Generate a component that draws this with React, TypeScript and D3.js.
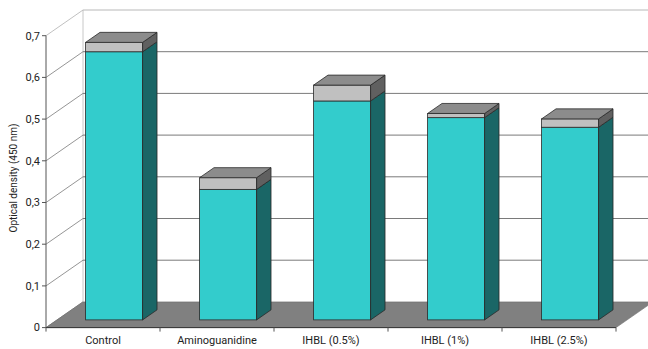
import React from "react";
import * as d3 from "d3";

const categories = ["Control", "Aminoguanidine", "IHBL (0.5%)", "IHBL (1%)", "IHBL (2.5%)"];
const baseValues = [0.643, 0.313, 0.525, 0.485, 0.462];
const topValues = [0.0225, 0.028, 0.038, 0.01, 0.02];
const yTicks = [0, 0.1, 0.2, 0.3, 0.4, 0.5, 0.6, 0.7];
const yTitle = "Optical density (450 nm)";

const W = 648;
const H = 349;
const DX = 37;
const DY = -25.7;
const FRONT = 0.3;
const BACK = 0.69;

export default function App() {
  const x = d3.scaleBand<string>().domain(categories).range([46, 616]).paddingInner(0.5).paddingOuter(0.25);
  const y = d3.scaleLinear().domain([0, 0.7]).range([327.6, 35.7]);
  const fmt = (v: number) => (v === 0 ? "0" : d3.format(".1f")(v).replace(".", ","));
  const x0 = 46;
  const x1 = 616;
  const y0 = y(0);
  const font = "Roboto, 'Noto Sans', sans-serif";

  const poly = (pts: [number, number][]) => pts.map((p) => p.join(",")).join(" ");

  const bars = categories.map((c, i) => {
    const bx = (x(c) as number) + FRONT * DX;
    const bw = x.bandwidth();
    const off = FRONT * DY;
    const ddx = (BACK - FRONT) * DX;
    const ddy = (BACK - FRONT) * DY;
    const yb = y(0) + off;
    const yc = y(baseValues[i]) + off;
    const yt = y(baseValues[i] + topValues[i]) + off;
    const stroke = "#2a2a2a";
    return (
      <g key={c}>
        <rect x={bx} y={yc} width={bw} height={yb - yc} fill="#33CCCC" stroke={stroke} strokeWidth={0.8} />
        <polygon
          points={poly([
            [bx + bw, yb],
            [bx + bw + ddx, yb + ddy],
            [bx + bw + ddx, yc + ddy],
            [bx + bw, yc],
          ])}
          fill="#1A6666"
          stroke={stroke}
          strokeWidth={0.8}
        />
        <rect x={bx} y={yt} width={bw} height={yc - yt} fill="#C0C0C0" stroke={stroke} strokeWidth={0.8} />
        <polygon
          points={poly([
            [bx + bw, yc],
            [bx + bw + ddx, yc + ddy],
            [bx + bw + ddx, yt + ddy],
            [bx + bw, yt],
          ])}
          fill="#606060"
          stroke={stroke}
          strokeWidth={0.8}
        />
        <polygon
          points={poly([
            [bx, yt],
            [bx + ddx, yt + ddy],
            [bx + bw + ddx, yt + ddy],
            [bx + bw, yt],
          ])}
          fill="#8C8C8C"
          stroke={stroke}
          strokeWidth={0.8}
        />
      </g>
    );
  });

  return (
    <svg width={W} height={H} style={{ position: "absolute", left: 0, top: 0 }}>
      <rect x={0} y={0} width={W} height={H} fill="#fff" />
      <line x1={x0 + DX} x2={x0 + DX} y1={y(0.7) + DY} y2={y0 + DY} stroke="#c8c8c8" strokeWidth={1} />
      {yTicks.map((t) => (
        <g key={t}>
          <line x1={x0} y1={y(t)} x2={x0 + DX} y2={y(t) + DY} stroke={t === 0.7 ? "#b0b0b0" : "#7a7a7a"} strokeWidth={0.8} />
          {t > 0 && (
            <line x1={x0 + DX} x2={x1 + DX} y1={y(t) + DY} y2={y(t) + DY} stroke={t === 0.7 ? "#b8b8b8" : "#7a7a7a"} strokeWidth={1} />
          )}
        </g>
      ))}
      <polygon
        points={poly([
          [x0, y0],
          [x0 + DX, y0 + DY],
          [x1 + DX, y0 + DY],
          [x1, y0],
        ])}
        fill="#808080"
        stroke="#6a6a6a"
        strokeWidth={0.6}
      />
      {bars}
      <line x1={x0} x2={x0} y1={y(0.7)} y2={y0} stroke="#555" strokeWidth={1} />
      {yTicks.map((t) => (
        <g key={"yt" + t}>
          <line x1={x0 - 4} x2={x0} y1={y(t)} y2={y(t)} stroke="#555" strokeWidth={1} />
          <text x={x0 - 6} y={y(t)} dy="0.35em" textAnchor="end" fontSize={11} fontFamily={font} fill="#222">
            {fmt(t)}
          </text>
        </g>
      ))}
      <line x1={x0} x2={x1} y1={y0} y2={y0} stroke="#333" strokeWidth={1} />
      {d3.range(categories.length + 1).map((i) => {
        const xv = x0 + i * x.step();
        return <line key={"xt" + i} x1={xv} x2={xv} y1={y0} y2={y0 + 4} stroke="#555" strokeWidth={1} />;
      })}
      {categories.map((c) => (
        <text
          key={"xl" + c}
          x={(x(c) as number) + x.bandwidth() / 2}
          y={344}
          textAnchor="middle"
          fontSize={11}
          fontFamily={font}
          fill="#222"
        >
          {c}
        </text>
      ))}
      <text
        transform={`translate(13, ${178}) rotate(-90)`}
        textAnchor="middle"
        dy="0.35em"
        fontSize={10}
        fontFamily={font}
        fill="#222"
      >
        {yTitle}
      </text>
    </svg>
  );
}
